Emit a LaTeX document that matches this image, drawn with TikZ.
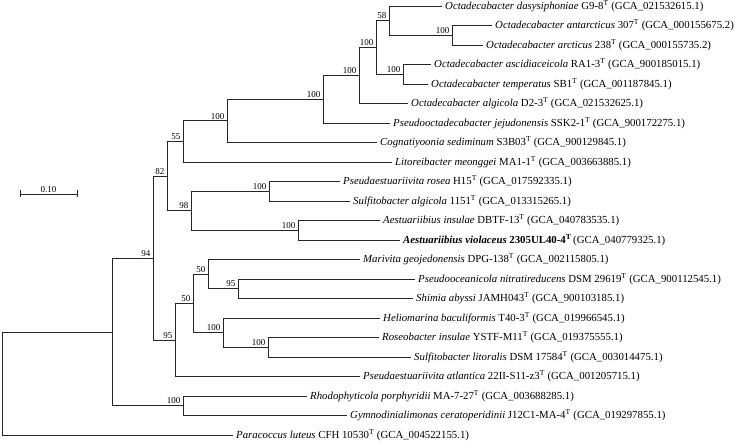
\documentclass[tikz,border=0pt]{standalone}
\usepackage{fontspec}
\usetikzlibrary{calc}
\setmainfont{Liberation Serif}
\newcommand{\supT}{\textsuperscript{T}}
\tikzset{
  br/.style={draw=black!85, line width=0.8pt},
  leaf/.style={anchor=west, inner sep=0pt, xshift=3pt, font=\fontsize{10.8}{12}\selectfont},
  boot/.style={anchor=south east, inner sep=0pt, xshift=-2.5pt, yshift=1.5pt, font=\fontsize{9}{10}\selectfont},
  scl/.style={anchor=south, inner sep=0pt, font=\fontsize{9}{10}\selectfont}
}
\begin{document}
\begin{tikzpicture}[x=1pt,y=-1pt]
\useasboundingbox (0,0) rectangle (735,443);
% leaves (end of branch)
\coordinate (l1) at (442,6);
\coordinate (l2) at (492,25.5);
\coordinate (l3) at (483,45);
\coordinate (l4) at (431,64.5);
\coordinate (l5) at (428,84);
\coordinate (l6) at (408,103.5);
\coordinate (l7) at (390,123);
\coordinate (l8) at (377,142.5);
\coordinate (l9) at (392,162);
\coordinate (l10) at (340,181.5);
\coordinate (l11) at (350,201);
\coordinate (l12) at (380,220.5);
\coordinate (l13) at (400,240);
\coordinate (l14) at (360,259.5);
\coordinate (l15) at (415,279);
\coordinate (l16) at (413,298.5);
\coordinate (l17) at (380,318);
\coordinate (l18) at (379,337.5);
\coordinate (l19) at (411,357);
\coordinate (l20) at (360,376.5);
\coordinate (l21) at (307,396);
\coordinate (l22) at (347,415.5);
\coordinate (l23) at (233,435);
% internal nodes
\coordinate (n100e) at (452,35.25);
\coordinate (n58) at (389,20.6);
\coordinate (n100f) at (403,74.25);
\coordinate (nA) at (376,47.4);
\coordinate (nB) at (359,75.5);
\coordinate (nC) at (323,99.2);
\coordinate (nD) at (227,120.9);
\coordinate (n55) at (183,141.4);
\coordinate (n100j) at (269,191.25);
\coordinate (n100k) at (298,230.25);
\coordinate (n98) at (191,210.75);
\coordinate (n82) at (167,176.1);
\coordinate (n95a) at (238,288.75);
\coordinate (n50a) at (208,274.1);
\coordinate (n100b) at (268,347.25);
\coordinate (n100c) at (223,332.6);
\coordinate (n50b) at (193,303.4);
\coordinate (n95) at (175,339.9);
\coordinate (n94) at (153,258);
\coordinate (n100d) at (183,405.75);
\coordinate (nE) at (112,331.9);
\coordinate (root) at (2,383.5);
% branches
\draw[br] (root) |- (nE);  \draw[br] (root) |- (l23);
\draw[br] (nE) |- (n94);   \draw[br] (nE) |- (n100d);
\draw[br] (n94) |- (n82);  \draw[br] (n94) |- (n95);
\draw[br] (n82) |- (n55);  \draw[br] (n82) |- (n98);
\draw[br] (n55) |- (nD);   \draw[br] (n55) |- (l9);
\draw[br] (nD) |- (nC);    \draw[br] (nD) |- (l8);
\draw[br] (nC) |- (nB);    \draw[br] (nC) |- (l7);
\draw[br] (nB) |- (nA);    \draw[br] (nB) |- (l6);
\draw[br] (nA) |- (n58);   \draw[br] (nA) |- (n100f);
\draw[br] (n58) |- (l1);   \draw[br] (n58) |- (n100e);
\draw[br] (n100e) |- (l2); \draw[br] (n100e) |- (l3);
\draw[br] (n100f) |- (l4); \draw[br] (n100f) |- (l5);
\draw[br] (n98) |- (n100j); \draw[br] (n98) |- (n100k);
\draw[br] (n100j) |- (l10); \draw[br] (n100j) |- (l11);
\draw[br] (n100k) |- (l12); \draw[br] (n100k) |- (l13);
\draw[br] (n95) |- (n50b);  \draw[br] (n95) |- (l20);
\draw[br] (n50b) |- (n50a); \draw[br] (n50b) |- (n100c);
\draw[br] (n50a) |- (l14);  \draw[br] (n50a) |- (n95a);
\draw[br] (n95a) |- (l15);  \draw[br] (n95a) |- (l16);
\draw[br] (n100c) |- (l17); \draw[br] (n100c) |- (n100b);
\draw[br] (n100b) |- (l18); \draw[br] (n100b) |- (l19);
\draw[br] (n100d) |- (l21); \draw[br] (n100d) |- (l22);
% bootstrap values
\node[boot] (b1) at (n58) {58};
\node[boot] (b2) at (n100e) {100};
\node[boot] (b3) at (n100f) {100};
\node[boot] (b4) at (nA) {100};
\node[boot] (b5) at (nB) {100};
\node[boot] (b6) at (nC) {100};
\node[boot] (b7) at (nD) {100};
\node[boot] (b8) at (n55) {55};
\node[boot] (b9) at (n82) {82};
\node[boot] (b10) at (n98) {98};
\node[boot] (b11) at (n100j) {100};
\node[boot] (b12) at (n100k) {100};
\node[boot] (b13) at (n94) {94};
\node[boot] (b14) at (n95) {95};
\node[boot] (b15) at (n50b) {50};
\node[boot] (b16) at (n50a) {50};
\node[boot] (b17) at (n95a) {95};
\node[boot] (b18) at (n100c) {100};
\node[boot] (b19) at (n100b) {100};
\node[boot] (b20) at (n100d) {100};
% leaf labels
\node[leaf] (t1) at (l1) {\textit{Octadecabacter dasysiphoniae} G9-8\supT{} (GCA\_021532615.1)};
\node[leaf] (t2) at (l2) {\textit{Octadecabacter antarcticus} 307\supT{} (GCA\_000155675.2)};
\node[leaf] (t3) at (l3) {\textit{Octadecabacter arcticus} 238\supT{} (GCA\_000155735.2)};
\node[leaf] (t4) at (l4) {\textit{Octadecabacter ascidiaceicola} RA1-3\supT{} (GCA\_900185015.1)};
\node[leaf] (t5) at (l5) {\textit{Octadecabacter temperatus} SB1\supT{} (GCA\_001187845.1)};
\node[leaf] (t6) at (l6) {\textit{Octadecabacter algicola} D2-3\supT{} (GCA\_021532625.1)};
\node[leaf] (t7) at (l7) {\textit{Pseudooctadecabacter jejudonensis} SSK2-1\supT{} (GCA\_900172275.1)};
\node[leaf] (t8) at (l8) {\textit{Cognatiyoonia sediminum} S3B03\supT{} (GCA\_900129845.1)};
\node[leaf] (t9) at (l9) {\textit{Litoreibacter meonggei} MA1-1\supT{} (GCA\_003663885.1)};
\node[leaf] (t10) at (l10) {\textit{Pseudaestuariivita rosea} H15\supT{} (GCA\_017592335.1)};
\node[leaf] (t11) at (l11) {\textit{Sulfitobacter algicola} 1151\supT{} (GCA\_013315265.1)};
\node[leaf] (t12) at (l12) {\textit{Aestuariibius insulae} DBTF-13\supT{} (GCA\_040783535.1)};
\node[leaf] (t13) at (l13) {\textbf{\textit{Aestuariibius violaceus} 2305UL40-4\supT}\,(GCA\_040779325.1)};
\node[leaf] (t14) at (l14) {\textit{Marivita geojedonensis} DPG-138\supT{} (GCA\_002115805.1)};
\node[leaf] (t15) at (l15) {\textit{Pseudooceanicola nitratireducens} DSM 29619\supT{} (GCA\_900112545.1)};
\node[leaf] (t16) at (l16) {\textit{Shimia abyssi} JAMH043\supT{} (GCA\_900103185.1)};
\node[leaf] (t17) at (l17) {\textit{Heliomarina baculiformis} T40-3\supT{} (GCA\_019966545.1)};
\node[leaf] (t18) at (l18) {\textit{Roseobacter insulae} YSTF-M11\supT{} (GCA\_019375555.1)};
\node[leaf] (t19) at (l19) {\textit{Sulfitobacter litoralis} DSM 17584\supT{} (GCA\_003014475.1)};
\node[leaf] (t20) at (l20) {\textit{Pseudaestuariivita atlantica} 22II-S11-z3\supT{} (GCA\_001205715.1)};
\node[leaf] (t21) at (l21) {\textit{Rhodophyticola porphyridii} MA-7-27\supT{} (GCA\_003688285.1)};
\node[leaf] (t22) at (l22) {\textit{Gymnodinialimonas ceratoperidinii} J12C1-MA-4\supT{} (GCA\_019297855.1)};
\node[leaf] (t23) at (l23) {\textit{Paracoccus luteus} CFH 10530\supT{} (GCA\_004522155.1)};
% scale bar
\coordinate (s1) at (20,194);
\coordinate (s2) at (77,194);
\draw[br] (s1) -- (s2);
\draw[br] ([yshift=-3.5pt]s1) -- ([yshift=3.5pt]s1);
\draw[br] ([yshift=-3.5pt]s2) -- ([yshift=3.5pt]s2);
\node[scl] (sl) at ($(s1)!0.5!(s2)+(0,-1.5)$) {0.10};
\end{tikzpicture}
\end{document}
